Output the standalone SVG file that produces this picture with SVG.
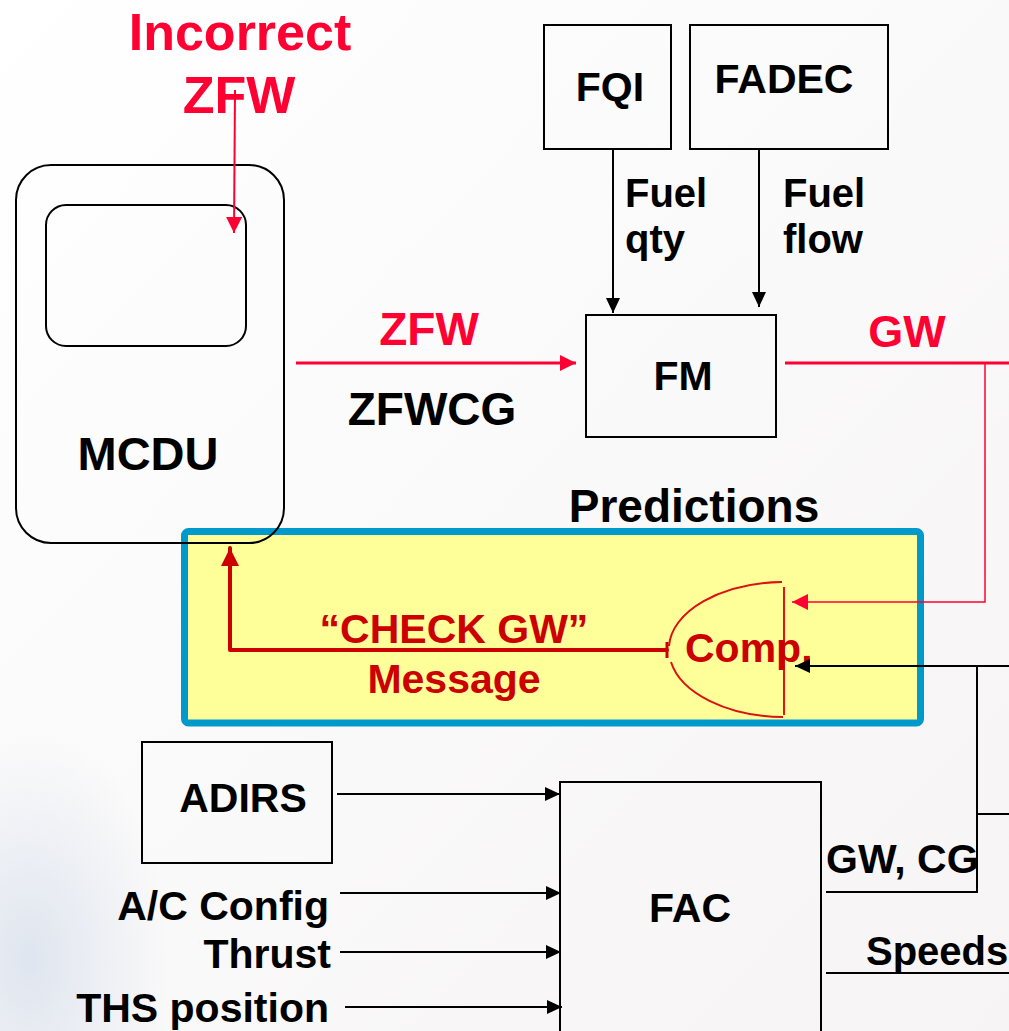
<svg xmlns="http://www.w3.org/2000/svg" width="1009" height="1031" viewBox="0 0 1009 1031">
<defs>
<style>
text{font-family:"Liberation Sans",Arial,sans-serif;font-weight:bold;}
.blk{fill:#000;}
.red{fill:#ff0033;}
.dred{fill:#cc0000;}
.box{fill:none;stroke:#000;stroke-width:2;}
.ln{fill:none;stroke:#000;stroke-width:2;}
.rl{fill:none;stroke:#ff0033;}
.dl{fill:none;stroke:#cc0000;}
</style>
<marker id="ab" markerWidth="15" markerHeight="14" refX="15" refY="7" orient="auto" markerUnits="userSpaceOnUse"><path d="M0,0 L15,7 L0,14 z" fill="#000"/></marker>
<marker id="ar" markerWidth="16" markerHeight="16" refX="16" refY="8" orient="auto" markerUnits="userSpaceOnUse"><path d="M0,0 L16,8 L0,16 z" fill="#ff0033"/></marker>
<marker id="ad" markerWidth="18" markerHeight="18" refX="18" refY="9" orient="auto" markerUnits="userSpaceOnUse"><path d="M0,0 L18,9 L0,18 z" fill="#cc0000"/></marker>
<radialGradient id="bgb" cx="0.5" cy="0.5" r="0.5"><stop offset="0" stop-color="#c8d4e6" stop-opacity="0.55"/><stop offset="1" stop-color="#c8d4e6" stop-opacity="0"/></radialGradient>
<linearGradient id="bg" x1="0" y1="0" x2="1" y2="1"><stop offset="0" stop-color="#ffffff"/><stop offset="1" stop-color="#f6f4f4"/></linearGradient>
</defs>
<rect width="1009" height="1031" fill="url(#bg)"/>
<ellipse cx="30" cy="960" rx="140" ry="230" fill="url(#bgb)"/>

<g id="predictions">
<rect x="184.5" y="531.5" width="736" height="191.5" rx="4" fill="#ffff99" stroke="#0099cc" stroke-width="7"/>
<text x="694" y="522" font-size="46" text-anchor="middle" class="blk">Predictions</text>
</g>

<g id="mcdu">
<rect x="16" y="165" width="268" height="378" rx="35" class="box"/>
<rect x="46" y="205" width="200" height="141" rx="20" class="box"/>
<text x="148" y="470" font-size="47" text-anchor="middle" class="blk">MCDU</text>
</g>

<g id="incorrect-zfw">
<text x="240" y="50" font-size="52" text-anchor="middle" class="red">Incorrect</text>
<text x="239" y="113" font-size="52" text-anchor="middle" class="red">ZFW</text>
</g>

<g id="fqi">
<rect x="544" y="25" width="127" height="124" class="box"/>
<text x="610" y="101" font-size="41" text-anchor="middle" class="blk">FQI</text>
</g>
<g id="fadec">
<rect x="690" y="25" width="198" height="124" class="box"/>
<text x="784" y="93" font-size="41" text-anchor="middle" class="blk">FADEC</text>
</g>

<g id="fm">
<rect x="586" y="315" width="190" height="122" class="box"/>
<text x="683" y="390" font-size="41" text-anchor="middle" class="blk">FM</text>
</g>

<g id="comp">
<path d="M782,582 A116,67 0 0 0 669,646 M671,662 A116,67 0 0 0 783,717" fill="none" stroke="#dd1111" stroke-width="2"/>
<line x1="784" y1="587" x2="784" y2="715" stroke="#ee1111" stroke-width="2"/>
<text x="685" y="662" font-size="41" class="dred">Comp.</text>
</g>

<g id="adirs">
<rect x="142" y="742" width="190" height="121" class="box"/>
<text x="243" y="812" font-size="41" text-anchor="middle" class="blk">ADIRS</text>
</g>

<g id="fac">
<path d="M560,1031 L560,782 L821,782 L821,1031" class="box"/>
<text x="690" y="922" font-size="41" text-anchor="middle" class="blk">FAC</text>
</g>

<g id="connectors">
<line x1="235" y1="90" x2="234" y2="233" class="rl" stroke-width="2" marker-end="url(#ar)"/>
<line x1="613" y1="149" x2="613" y2="313" class="ln" marker-end="url(#ab)"/>
<line x1="759" y1="148" x2="759" y2="307" class="ln" marker-end="url(#ab)"/>
<line x1="296" y1="363" x2="576" y2="363" class="rl" stroke-width="3" marker-end="url(#ar)"/>
<line x1="785" y1="363" x2="1009" y2="363" class="rl" stroke-width="3"/>
<polyline points="985,363 985,602 792,602" class="rl" stroke-width="1.5" marker-end="url(#ar)"/>
<line x1="667" y1="642" x2="667" y2="658" class="dl" stroke-width="3"/>
<polyline points="667,650 230,650 230,548" class="dl" stroke-width="4" stroke-linejoin="round" stroke-linecap="round" marker-end="url(#ad)"/>
<line x1="1009" y1="666" x2="795" y2="666" class="ln" marker-end="url(#ab)"/>
<polyline points="977,666 977,893" class="ln"/>
<line x1="977" y1="814" x2="1009" y2="814" class="ln"/>
<line x1="826" y1="892" x2="977" y2="892" class="ln"/>
<line x1="826" y1="973" x2="1009" y2="973" class="ln" stroke-width="3"/>
<line x1="337" y1="794" x2="560" y2="794" class="ln" marker-end="url(#ab)"/>
<line x1="340" y1="893" x2="561" y2="893" class="ln" marker-end="url(#ab)"/>
<line x1="340" y1="952" x2="561" y2="952" class="ln" marker-end="url(#ab)"/>
<line x1="345" y1="1007" x2="562" y2="1007" class="ln" marker-end="url(#ab)"/>
</g>

<g id="labels">
<text x="625" y="207" font-size="40" class="blk">Fuel</text>
<text x="625" y="253" font-size="40" class="blk">qty</text>
<text x="783" y="207" font-size="40" class="blk">Fuel</text>
<text x="783" y="253" font-size="40" class="blk">flow</text>
<text x="429" y="345" font-size="46" text-anchor="middle" class="red">ZFW</text>
<text x="432" y="425" font-size="46" text-anchor="middle" class="blk">ZFWCG</text>
<text x="907" y="347" font-size="45" text-anchor="middle" class="red">GW</text>
<text x="454" y="643" font-size="41" text-anchor="middle" class="dred">“CHECK GW”</text>
<text x="454" y="693" font-size="41" text-anchor="middle" class="dred">Message</text>
<text x="329" y="920" font-size="41" text-anchor="end" class="blk">A/C Config</text>
<text x="331" y="968" font-size="41" text-anchor="end" class="blk">Thrust</text>
<text x="329" y="1022" font-size="41" text-anchor="end" class="blk">THS position</text>
<text x="826" y="873" font-size="41" class="blk">GW, CG</text>
<text x="866" y="965" font-size="40" class="blk">Speeds</text>
</g>
</svg>
